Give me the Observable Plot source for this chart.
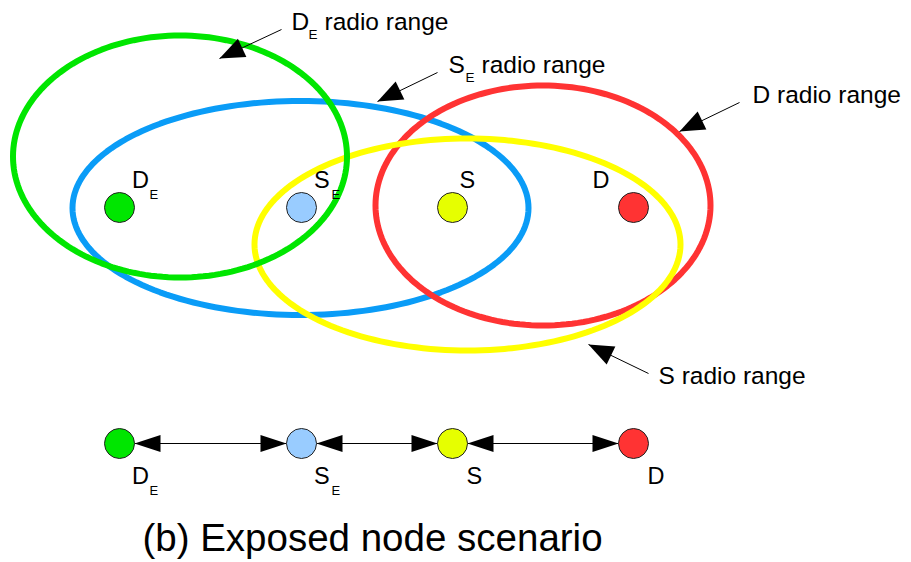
<!DOCTYPE html>
<html>
<head>
<meta charset="utf-8">
<script src="https://cdn.jsdelivr.net/npm/d3@7"></script>
<script src="https://cdn.jsdelivr.net/npm/@observablehq/plot@0.6"></script>
<style>
  html, body { margin: 0; padding: 0; background: #fff; }
  svg { display: block; }
</style>
</head>
<body>
<script>
// ---- data (diagram coordinates, y grows downward) ----
const nodeNames   = ["DE", "SE", "S", "D"];
const nodeLetter  = ["D", "S", "S", "D"];
const nodeSub     = ["E", "E", "", ""];
const nodeX       = [119, 301, 452, 633];
const nodeTopY    = 207;
const nodeLineY   = 443;
const nodeFill    = ["#00e600", "#99ccff", "#e6ff00", "#ff3333"];

// radio range ellipses (drawing order: blue, red, yellow, green)
const rangeNode   = ["SE", "D", "S", "DE"];
const rangeCx     = [300, 542.5, 467, 179.5];
const rangeCy     = [207.5, 205, 244, 156];
const rangeRx     = [228, 167.5, 213, 167];
const rangeRy     = [107, 120, 106, 121];
const rangeColor  = ["#0a9cf7", "#ff3333", "#ffff00", "#00e600"];

// annotation callouts
const annoLetter  = ["D", "S", "D", "S"];
const annoSub     = ["E", "E", "", ""];
const annoTextX   = [291, 448, 752, 658];
const annoTextY   = [29, 72, 102, 383];
const annoFromX   = [281, 437, 739, 648];
const annoFromY   = [29, 72, 102, 373];
const annoTipX    = [219, 377, 679, 588];
const annoTipY    = [58, 101, 131, 344];

const titleText = "(b) Exposed node scenario";

// ---- derived tables ----
const nodes = nodeNames.map((n, i) => ({name: n, letter: nodeLetter[i], sub: nodeSub[i], x: nodeX[i], fill: nodeFill[i]}));
const ellipsePts = [];
rangeNode.forEach((n, i) => {
  for (let k = 0; k < 180; k++) {
    const t = (k / 180) * 2 * Math.PI;
    ellipsePts.push({z: i, x: rangeCx[i] + rangeRx[i] * Math.cos(t), y: rangeCy[i] + rangeRy[i] * Math.sin(t), color: rangeColor[i]});
  }
});
const annos = annoLetter.map((l, i) => ({letter: l, sub: annoSub[i], tx: annoTextX[i], ty: annoTextY[i], x1: annoFromX[i], y1: annoFromY[i], x2: annoTipX[i], y2: annoTipY[i]}));
const angle = (dx, dy) => Math.atan2(dx, -dy) * 180 / Math.PI;
const R = 15;
const links = [];
const heads = [];
for (let i = 0; i < nodes.length - 1; i++) {
  const a = nodes[i].x + R, b = nodes[i + 1].x - R;
  links.push({x1: a, x2: b});
  heads.push({x: a, rot: angle(-1, 0)});
  heads.push({x: b, rot: angle(1, 0)});
}

// filled arrowhead symbols with tip at origin pointing up
function headSymbol(L, W) {
  return {draw(ctx) { ctx.moveTo(0, 0); ctx.lineTo(-W / 2, L); ctx.lineTo(W / 2, L); ctx.closePath(); }};
}
const bigHead = headSymbol(25, 20);
const smallHead = headSymbol(26, 17);

const font = "Liberation Sans, Arial, sans-serif";

const chart = Plot.plot({
  width: 911,
  height: 562,
  margin: 0,
  x: {domain: [0, 911], range: [0, 911], axis: null},
  y: {domain: [0, 562], range: [0, 562], axis: null},
  style: {fontFamily: font, background: "#fff"},
  marks: [
    // ellipses
    Plot.line(ellipsePts, {x: "x", y: "y", z: "z", stroke: "color", strokeWidth: 6, curve: "linear-closed"}),
    // top nodes
    Plot.dot(nodes, {x: "x", y: () => nodeTopY, r: R, fill: "fill", stroke: "#222", strokeWidth: 1}),
    Plot.text(nodes, {x: d => d.x + (d.name === "D" ? -41 : d.name === "S" ? 7 : 12.5), y: () => nodeTopY - 20, text: "letter", fontSize: 23.5, textAnchor: "start", lineAnchor: "bottom", fill: "#000"}),
    Plot.text(nodes.filter(d => d.sub), {x: d => d.x + 30, y: () => nodeTopY - 9, text: "sub", fontSize: 13, textAnchor: "start", lineAnchor: "bottom", fill: "#000"}),
    // bottom line of nodes
    Plot.link(links, {x1: "x1", x2: "x2", y1: () => nodeLineY, y2: () => nodeLineY, stroke: "#000", strokeWidth: 1}),
    Plot.dot(heads, {x: "x", y: () => nodeLineY, symbol: smallHead, rotate: "rot", fill: "#000", stroke: "none"}),
    Plot.dot(nodes, {x: "x", y: () => nodeLineY, r: R, fill: "fill", stroke: "#222", strokeWidth: 1}),
    Plot.text(nodes, {x: d => d.x + (d.name === "SE" || d.name === "DE" ? 12.5 : 14), y: () => nodeLineY + 40, text: "letter", fontSize: 23.5, textAnchor: "start", lineAnchor: "bottom", fill: "#000"}),
    Plot.text(nodes.filter(d => d.sub), {x: d => d.x + 30, y: () => nodeLineY + 51, text: "sub", fontSize: 13, textAnchor: "start", lineAnchor: "bottom", fill: "#000"}),
    // annotation callouts
    Plot.link(annos, {x1: "x1", y1: "y1", x2: "x2", y2: "y2", stroke: "#000", strokeWidth: 1}),
    Plot.dot(annos, {x: "x2", y: "y2", symbol: bigHead, rotate: d => angle(d.x2 - d.x1, d.y2 - d.y1), fill: "#000", stroke: "none"}),
    Plot.text(annos, {x: "tx", y: "ty", text: d => d.sub ? d.letter : d.letter + " radio range", fontSize: 24.5, textAnchor: "start", lineAnchor: "bottom", fill: "#000"}),
    Plot.text(annos.filter(d => d.sub), {x: d => d.tx + 17, y: d => d.ty + 9, text: "sub", fontSize: 13.5, textAnchor: "start", lineAnchor: "bottom", fill: "#000"}),
    Plot.text(annos.filter(d => d.sub), {x: d => d.tx + 33, y: "ty", text: () => "radio range", fontSize: 24.5, textAnchor: "start", lineAnchor: "bottom", fill: "#000"}),
    // title
    Plot.text([titleText], {x: () => 372, y: () => 550, text: d => d, fontSize: 38.5, textAnchor: "middle", lineAnchor: "bottom", fill: "#000"})
  ]
});
document.body.appendChild(chart);
</script>
</body>
</html>
